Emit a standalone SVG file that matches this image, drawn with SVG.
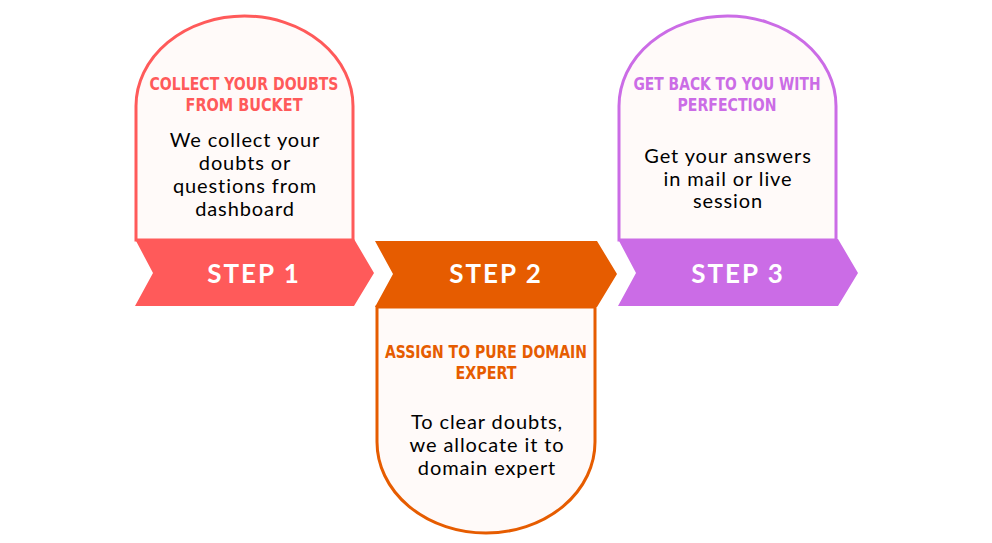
<svg xmlns="http://www.w3.org/2000/svg" width="992" height="543" viewBox="0 0 992 543">
<style>
.card{fill:#FFFAF9;stroke-width:3}
.title{font-family:"DejaVu Sans",sans-serif;font-stretch:condensed;font-weight:bold;font-size:17px;text-anchor:middle}
.body{font-family:Lato,"Open Sans",sans-serif;font-weight:400;font-size:20px;fill:#000;text-anchor:middle;letter-spacing:0.9px}
.step{font-family:Lato,"Open Sans",sans-serif;font-weight:bold;font-size:26px;fill:#fff;text-anchor:middle;letter-spacing:2px}
</style>
<rect width="992" height="543" fill="#fff"/>
<g id="step1">
<path class="card" stroke="#FF5A5A" d="M136 240 V106 A108.5 90 0 0 1 353 106 V240 Z"/>
<polygon fill="#FF5A5A" points="135,239 354,239 374,273 354,306 135,306 153,273"/>
<text class="title" fill="#FF5A5A" x="244" y="90" textLength="189" lengthAdjust="spacingAndGlyphs">COLLECT YOUR DOUBTS</text>
<text class="title" fill="#FF5A5A" x="244" y="111" textLength="117" lengthAdjust="spacingAndGlyphs">FROM BUCKET</text>
<text class="body" x="245" y="147">We collect your</text>
<text class="body" x="245" y="170">doubts or</text>
<text class="body" x="245" y="193">questions from</text>
<text class="body" x="245" y="216">dashboard</text>
<text class="step" x="254" y="283">STEP 1</text>
</g>
<g id="step2">
<path class="card" stroke="#E65C00" d="M377 307 V442 A109 91 0 0 0 595 442 V307 Z"/>
<polygon fill="#E65C00" points="375,241 597,241 617,274 597,307 375,307 393,274"/>
<text class="title" fill="#E65C00" x="486" y="358" textLength="202" lengthAdjust="spacingAndGlyphs">ASSIGN TO PURE DOMAIN</text>
<text class="title" fill="#E65C00" x="486" y="379" textLength="61" lengthAdjust="spacingAndGlyphs">EXPERT</text>
<text class="body" x="487" y="429">To clear doubts,</text>
<text class="body" x="487" y="452">we allocate it to</text>
<text class="body" x="487" y="475">domain expert</text>
<text class="step" x="496" y="283">STEP 2</text>
</g>
<g id="step3">
<path class="card" stroke="#CB6CE6" d="M619 240 V106 A108.5 90 0 0 1 836 106 V240 Z"/>
<polygon fill="#CB6CE6" points="618,239 838,239 858,273 838,306 618,306 636,273"/>
<text class="title" fill="#CB6CE6" x="727" y="90" textLength="187" lengthAdjust="spacingAndGlyphs">GET BACK TO YOU WITH</text>
<text class="title" fill="#CB6CE6" x="727" y="111" textLength="99" lengthAdjust="spacingAndGlyphs">PERFECTION</text>
<text class="body" x="728" y="163">Get your answers</text>
<text class="body" x="728" y="186">in mail or live</text>
<text class="body" x="728" y="208">session</text>
<text class="step" x="738" y="283">STEP 3</text>
</g>
<g id="connectors"/>
</svg>
